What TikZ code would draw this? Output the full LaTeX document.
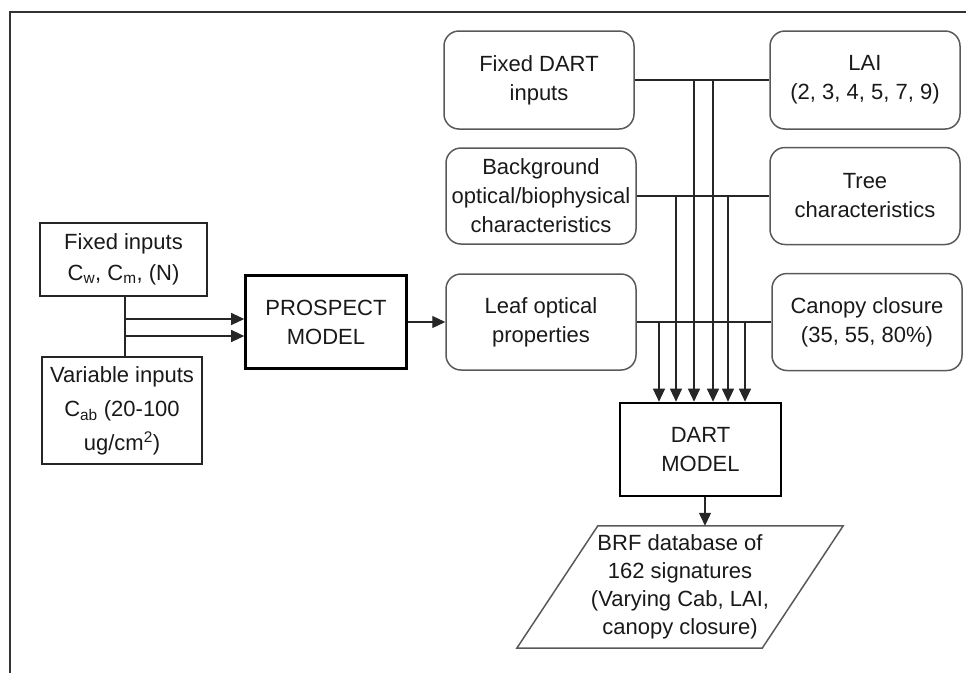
\documentclass[tikz,border=0pt]{standalone}
\usepackage{fontspec}
\setmainfont{Liberation Sans}
\usetikzlibrary{arrows.meta}
\begin{document}
\begin{tikzpicture}[x=1pt,y=-1pt,
  every node/.style={font=\fontsize{22}{29}\selectfont, align=center, inner sep=0pt, text=black!90},
  rbox/.style={draw=black!65, line width=1.5pt, rounded corners=15pt, minimum width=190pt},
  sbox/.style={draw=black!85, line width=1.3pt},
  tbox/.style={draw=black, line width=2.6pt, minimum width=161pt, minimum height=93pt},
  conn/.style={line width=1.2pt, black!85},
  arr/.style={conn, -{Triangle[length=13pt,width=12pt]}}
]
\useasboundingbox (0,0) rectangle (966,673);
% frame
\draw[line width=1.2pt, black!80] (10,673) -- (10,12) -- (966,12);

% right-hand input boxes
\node[rbox, minimum height=98pt] (fdi) at (539,80) {Fixed DART\\inputs};
\node[rbox, minimum height=98pt] (lai) at (865,80) {LAI\\(2, 3, 4, 5, 7, 9)};
\node[rbox, minimum height=96pt] (bg) at (541,196) {Background\\optical/biophysical\\characteristics};
\node[rbox, minimum height=97pt] (tree) at (865,196) {Tree\\characteristics};
\node[rbox, minimum height=96pt] (leaf) at (541,322) {Leaf optical\\properties};
\node[rbox, minimum height=97pt] (can) at (867,322) {Canopy closure\\(35, 55, 80\%)};

% left boxes
\node[sbox, minimum width=167pt, minimum height=73pt, font=\fontsize{22}{31}\selectfont] (fi) at (123.5,259.5)
  {Fixed inputs\\C\textsubscript{w}, C\textsubscript{m}, (N)};
\node[sbox, minimum width=160pt, minimum height=107pt, font=\fontsize{22}{34}\selectfont] (vi) at (122,410.5)
  {Variable inputs\\C\textsubscript{ab} (20-100\\ug/cm\textsuperscript{2})};

% models
\node[tbox] (pro) at (326,322) {PROSPECT\\MODEL};
\node[tbox] (dart) at (700.5,449.5) {DART\\MODEL};

% output parallelogram
\node[minimum width=326pt, minimum height=122pt, font=\fontsize{22}{28}\selectfont] (brf) at (680,587)
  {BRF database of\\162 signatures\\(Varying Cab, LAI,\\canopy closure)};
\draw[black!65, line width=1.5pt] ([xshift=81pt]brf.north west) -- (brf.north east)
  -- ([xshift=-81pt]brf.south east) -- (brf.south west) -- cycle;

% left connectors
\coordinate (j) at ([xshift=1.5pt]fi.south);
\coordinate (p1) at ([yshift=3pt]pro.west);
\coordinate (p2) at ([yshift=-14pt]pro.west);
\draw[conn] (j) -- (j |- vi.north);
\draw[arr] (j |- p1) -- (p1);
\draw[arr] (j |- p2) -- (p2);
\draw[arr] (pro.east) -- (leaf.west);

% horizontal connectors
\draw[conn] (fdi.east) -- (lai.west);
\draw[conn] (bg.east) -- (tree.west);
\draw[conn] (leaf.east) -- (can.west);

% vertical connectors into DART
\coordinate (d1) at ([xshift=-41.5pt]dart.north);
\coordinate (d2) at ([xshift=-24.5pt]dart.north);
\coordinate (d3) at ([xshift=-6.5pt]dart.north);
\coordinate (d4) at ([xshift=12.5pt]dart.north);
\coordinate (d5) at ([xshift=27.5pt]dart.north);
\coordinate (d6) at ([xshift=44.5pt]dart.north);
\draw[arr] (d1 |- leaf.east) -- (d1);
\draw[arr] (d2 |- bg.east) -- (d2);
\draw[arr] (d3 |- fdi.east) -- (d3);
\draw[arr] (d4 |- fdi.east) -- (d4);
\draw[arr] (d5 |- bg.east) -- (d5);
\draw[arr] (d6 |- leaf.east) -- (d6);

% DART to output
\coordinate (o) at ([xshift=4.5pt]dart.south);
\draw[arr] (o) -- (o |- brf.north);
\end{tikzpicture}
\end{document}
